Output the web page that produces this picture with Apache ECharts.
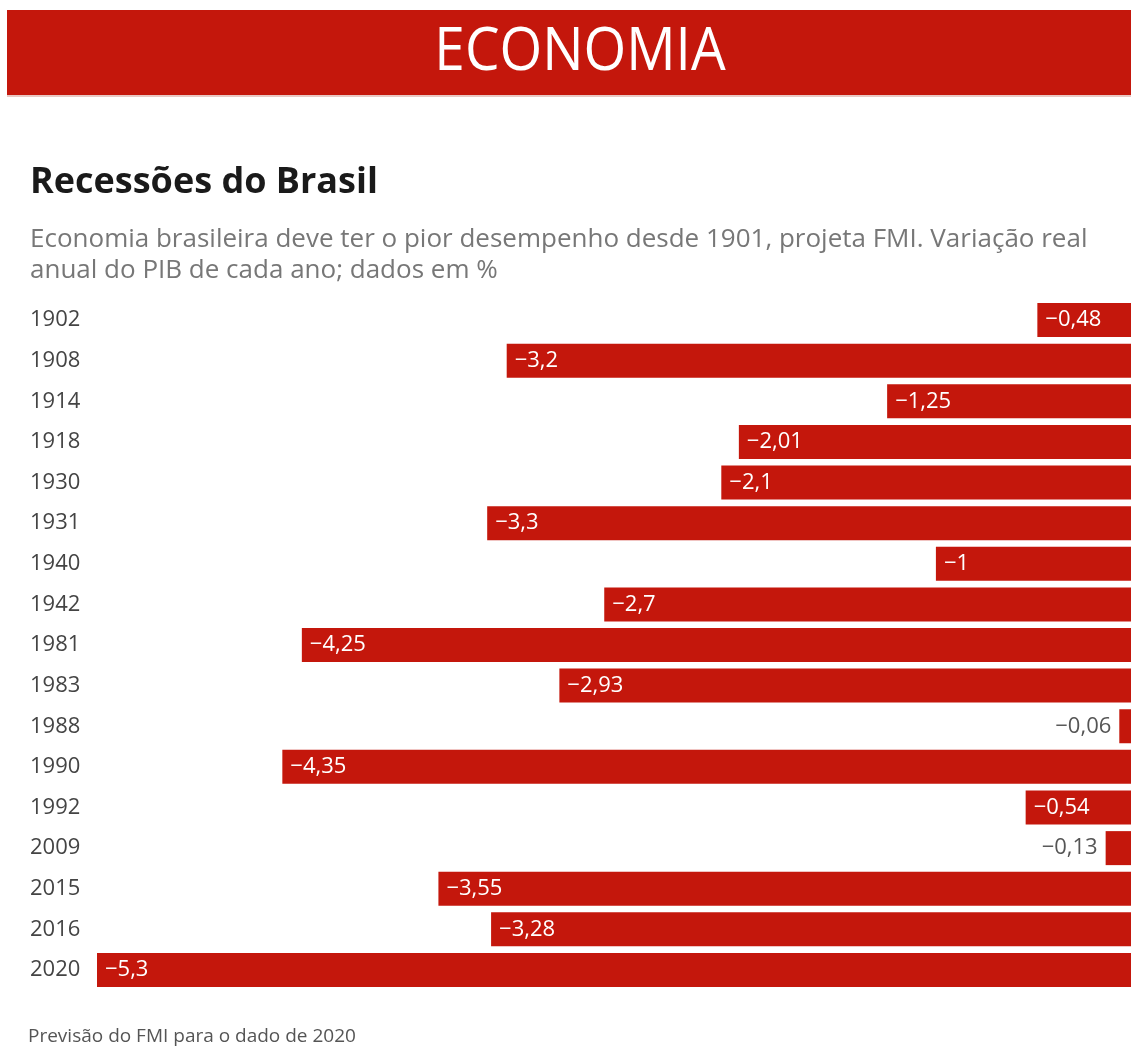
<!DOCTYPE html>
<html><head><meta charset="utf-8">
<script src="https://cdn.jsdelivr.net/npm/echarts@6/dist/echarts.min.js"></script>
<style>html,body{margin:0;padding:0;background:#fff}#c{width:1131px;height:1050px}</style>
</head><body><div id="c"></div>
<script>
const years = ['1902','1908','1914','1918','1930','1931','1940','1942','1981','1983','1988','1990','1992','2009','2015','2016','2020'];
const values = [-0.48,-3.2,-1.25,-2.01,-2.1,-3.3,-1,-2.7,-4.25,-2.93,-0.06,-4.35,-0.54,-0.13,-3.55,-3.28,-5.3];
const outsideYears = ['1988','2009'];

const FONT = '"Open Sans", sans-serif';
const RED = '#c4170c';
const fmt = v => '\u2212' + String(Math.abs(v)).replace('.', ',');

const chart = echarts.init(document.getElementById('c'), null, {renderer:'canvas'});
chart.setOption({
  animation:false,
  backgroundColor:'#fff',
  grid:{left:97, right:0, top:299.7, height:690.6, containLabel:false},
  xAxis:{type:'value', min:-5.3, max:0, show:false},
  yAxis:{type:'category', data:years, inverse:true,
    axisLine:{show:false}, axisTick:{show:false}, splitLine:{show:false},
    axisLabel:{align:'left', margin:67, fontFamily:FONT, fontSize:22, color:'#444'}},
  series:[{
    type:'bar', barWidth:34,
    itemStyle:{color:RED},
    data: values.map((v,i)=>{
      const out = outsideYears.includes(years[i]);
      return {value:v, label:{show:true, position: out?'left':'insideLeft', distance:8,
        color: out?'#555':'#fff', fontFamily:FONT, fontSize:22, formatter:()=>fmt(v)}};
    })
  }],
  graphic:[
    {type:'rect', shape:{x:7,y:10,width:1124,height:85}, style:{fill:RED}},
    {type:'rect', shape:{x:7,y:95,width:1124,height:2}, style:{fill:'#e8c8c4'}},
    {type:'text', x:580, y:53, scaleX:0.9, originX:0, originY:0, style:{text:'ECONOMIA', fill:'#fff', font:'400 61px '+FONT, textAlign:'center', textVerticalAlign:'middle'}},
    {type:'text', x:30, y:183, style:{text:'Recessões do Brasil', fill:'#1a1a1a', font:'700 36px '+FONT, textVerticalAlign:'middle'}},
    {type:'text', x:30, y:240, style:{text:'Economia brasileira deve ter o pior desempenho desde 1901, projeta FMI. Variação real', fill:'#777', font:'400 26px '+FONT, textVerticalAlign:'middle'}},
    {type:'text', x:30, y:271, style:{text:'anual do PIB de cada ano; dados em %', fill:'#777', font:'400 26px '+FONT, textVerticalAlign:'middle'}},
    {type:'text', x:28, y:1037, style:{text:'Previsão do FMI para o dado de 2020', fill:'#555', font:'400 19px '+FONT, textVerticalAlign:'middle'}}
  ]
});
</script></body></html>
